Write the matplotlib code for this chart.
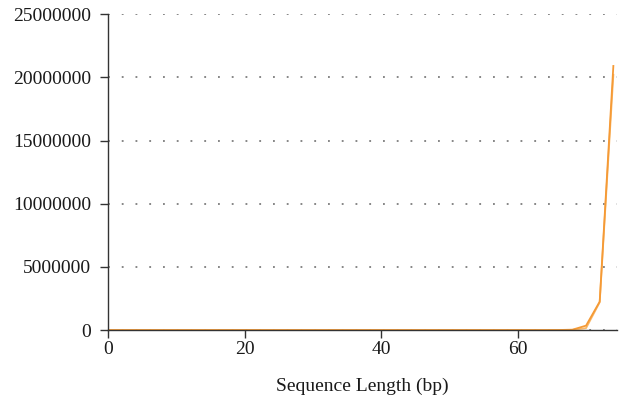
import matplotlib.pyplot as plt
from matplotlib.ticker import FuncFormatter

# longitudes de secuencia (bp) y conteo de lecturas para dos muestras
lengths = [0, 2, 4, 6, 8, 10, 12, 14, 16, 18, 20, 22, 24, 26, 28, 30, 32, 34, 36,
           38, 40, 42, 44, 46, 48, 50, 52, 54, 56, 58, 60, 62, 64, 66, 68, 70, 72, 74]
reads_a = [0, 0, 0, 0, 0, 0, 0, 0, 0, 0, 0, 0, 0, 0, 0, 0, 0, 0, 0,
           0, 0, 0, 0, 0, 0, 0, 0, 0, 0, 0, 0, 0, 0, 5000, 30000, 350000, 2250000, 20900000]
reads_b = [0, 0, 0, 0, 0, 0, 0, 0, 0, 0, 0, 0, 0, 0, 0, 0, 0, 0, 0,
           0, 0, 0, 0, 0, 0, 0, 0, 0, 0, 0, 0, 0, 0, 3000, 15000, 150000, 2200000, 20200000]
y_ticks = [0, 5000000, 10000000, 15000000, 20000000, 25000000]
x_ticks = [0, 20, 40, 60]

plt.rcParams['font.family'] = ['Liberation Serif', 'DejaVu Serif']

fig = plt.figure(figsize=(6.19, 4.04), dpi=100)
ax = fig.add_axes([0.1745, 0.183, 0.823, 0.782])

ax.plot(lengths, reads_b, color='#f9b868', lw=1.3)
ax.plot(lengths, reads_a, color='#f59a36', lw=1.3)

ax.set_xlim(0, 74.6)
ax.set_ylim(0, 25000000)
ax.set_xticks(x_ticks)
ax.set_yticks(y_ticks)
ax.yaxis.set_major_formatter(FuncFormatter(lambda v, p: f'{int(v)}'))
ax.grid(axis='y', color='#666666', linestyle=(0, (1.2, 7.8)), lw=1.1)
ax.set_axisbelow(True)

for s in ['top', 'right']:
    ax.spines[s].set_visible(False)
for s in ['left', 'bottom']:
    ax.spines[s].set_color('#333333')
    ax.spines[s].set_linewidth(1)
ax.tick_params(colors='#333333', labelcolor='#1a1a1a', labelsize=14, length=6, width=1)
ax.tick_params(axis='y', pad=6)
ax.tick_params(axis='x', pad=2)
ax.set_xlabel('Sequence Length (bp)', fontsize=14, color='#1a1a1a', labelpad=14)

plt.savefig('out.png', dpi=100)
plt.close()
